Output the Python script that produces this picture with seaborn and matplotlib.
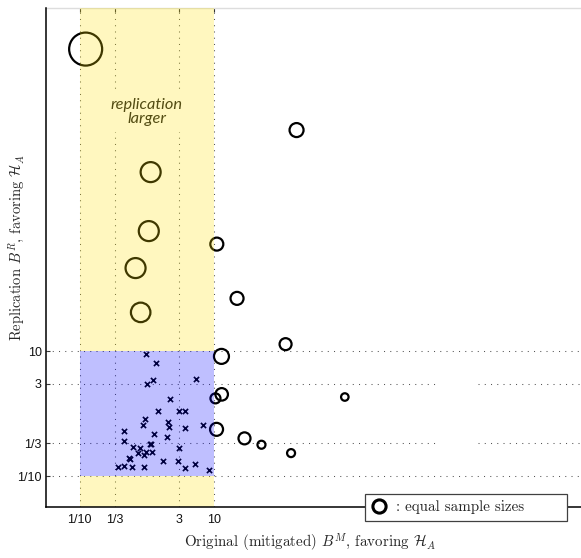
import numpy as np
import pandas as pd
import matplotlib
matplotlib.use("Agg")
import matplotlib.pyplot as plt
import matplotlib.ticker as mticker
from matplotlib.lines import Line2D
import seaborn as sns

# Bayes factors of study pairs with equal sample sizes (open circles)
eq_original = [0.123, 169, 1.14, 1.07, 0.68, 11.0, 22.0, 0.81, 116, 12.9,
               883, 13.0, 10.5, 10.9, 28.4, 50.8, 140]
eq_replication = [6.8e5, 3.44e4, 7310, 832, 213, 515, 69.7, 41.6, 12.9, 8.22,
                  1.84, 2.03, 1.75, 0.559, 0.401, 0.317, 0.233]
eq_relative_n = [3.3, 1.4, 2.0, 2.0, 2.0, 1.3, 1.3, 1.95, 1.2, 1.5,
                 0.75, 1.25, 1.0, 1.3, 1.2, 0.8, 0.8]

# Bayes factors of study pairs with a larger replication sample (crosses)
lg_original = [0.985, 1.39, 1.23, 1.02, 5.34, 2.23, 1.49, 3.00, 3.69, 0.951,
               0.876, 2.10, 2.17, 3.66, 6.86, 0.465, 1.28, 2.03, 0.463, 1.11,
               1.16, 0.630, 0.804, 3.00, 0.731, 0.985, 1.21, 0.923, 0.541, 0.565,
               1.73, 2.88, 0.377, 0.452, 0.609, 0.907, 3.66, 5.25, 8.34]
lg_replication = [8.85, 6.50, 3.48, 2.93, 3.63, 1.71, 1.11, 1.10, 1.10, 0.826,
                  0.655, 0.739, 0.612, 0.593, 0.662, 0.519, 0.465, 0.416, 0.367, 0.329,
                  0.329, 0.296, 0.281, 0.281, 0.236, 0.245, 0.242, 0.217, 0.194, 0.188,
                  0.176, 0.175, 0.141, 0.143, 0.141, 0.142, 0.133, 0.157, 0.123]

tick_values = [0.1, 1 / 3, 3, 10]
tick_labels = ["1/10", "1/3", "3", "10"]
inconclusive_low, inconclusive_high = 0.1, 10

equal_df = pd.DataFrame({"original": eq_original, "replication": eq_replication,
                         "rel_n": eq_relative_n})
larger_df = pd.DataFrame({"original": lg_original, "replication": lg_replication})

sns.set_theme(style="white")
plt.rcParams["font.family"] = ["Liberation Sans", "DejaVu Sans"]
plt.rcParams["mathtext.fontset"] = "cm"
plt.rcParams["axes.formatter.use_mathtext"] = True

fig = plt.figure(figsize=(5.81, 5.58), dpi=100)
ax = fig.add_axes([46 / 581, 1 - 507.3 / 558, 1 - 46 / 581, (507.3 - 8) / 558])
ax.set_xscale("log")
ax.set_yscale("log")
ax.set_xlim(10 ** -1.5, 10 ** 6.46)
ax.set_ylim(10 ** -1.5, 10 ** 6.49)

# dotted reference lines at the evidence thresholds
grid_kw = dict(color="#555555", lw=0.75, ls=(0, (1, 5)), zorder=1)
for v in tick_values:
    ax.axvline(v, **grid_kw)
for v in [0.1, 10]:
    ax.axhline(v, **grid_kw)
for v in [1 / 3, 3]:
    ax.axhline(v, xmin=0, xmax=0.731, **grid_kw)
    ax.axhline(v, xmin=0.807, xmax=1, **grid_kw)

ax.text(1.0, 0.792, "replication\nlarger", transform=ax.get_xaxis_transform(),
        ha="center", va="center", fontsize=11.8, fontstyle="italic",
        family="Lato", color="#1a1a1a", linespacing=1.0, zorder=2,
        bbox=dict(boxstyle="square,pad=0.4", fc="white", ec="none"))

# markers
sns.scatterplot(data=larger_df, x="original", y="replication", marker="x",
                s=14, color="black", linewidth=1.2, ax=ax, zorder=3, legend=False)
sns.scatterplot(data=equal_df, x="original", y="replication", marker="o",
                s=(7.2 * equal_df["rel_n"]) ** 2, facecolor="none",
                edgecolor="black", linewidth=1.6, ax=ax, zorder=3, legend=False)

# translucent shading of the original-study evidence band
ylo, yhi = ax.get_ylim()
ax.fill_betweenx([inconclusive_high, yhi], inconclusive_low, inconclusive_high,
                 color=(1.0, 0.89, 0.0), alpha=0.25, lw=0, zorder=4)
ax.fill_betweenx([ylo, inconclusive_low], inconclusive_low, inconclusive_high,
                 color=(1.0, 0.89, 0.0), alpha=0.25, lw=0, zorder=4)
ax.fill_betweenx([inconclusive_low, inconclusive_high], inconclusive_low,
                 inconclusive_high, color=(0.0, 0.0, 1.0), alpha=0.25, lw=0, zorder=4)

ax.set_xticks(tick_values, tick_labels)
ax.set_yticks(tick_values, tick_labels)
ax.xaxis.set_minor_locator(mticker.NullLocator())
ax.yaxis.set_minor_locator(mticker.NullLocator())
ax.tick_params(axis="both", direction="in", length=3, width=0.8, color="#333333",
               labelsize=9, labelcolor="#111111")
ax.tick_params(axis="x", top=True, pad=5)
ax.tick_params(axis="y", left=True, right=False, pad=3)

for side in ["left", "bottom"]:
    ax.spines[side].set_color("black")
    ax.spines[side].set_linewidth(1.1)
    ax.spines[side].set_zorder(5)
ax.spines["top"].set_color("#dddddd")
ax.spines["top"].set_linewidth(1.0)
ax.spines["right"].set_visible(False)

ax.set_xlabel(r"Original (mitigated) $B^M$, favoring $\mathcal{H}_A$",
              family="cmr10", fontsize=10.8)
ax.set_ylabel(r"Replication $B^R$, favoring $\mathcal{H}_A$",
              family="cmr10", fontsize=10.5)
ax.xaxis.set_label_coords(0.493, -0.050)
ax.yaxis.set_label_coords(-0.037, 0.519)

handle = Line2D([], [], marker="o", ls="none", mfc="none", mec="black",
                mew=2.2, ms=9.5)
leg = fig.legend([handle], [": equal sample sizes"], loc="center",
                 bbox_to_anchor=(365 / 581, 1 - 523 / 558, 202 / 581, 31 / 558),
                 mode="expand", borderaxespad=0, frameon=True, fancybox=False,
                 framealpha=1, edgecolor="#404040", handlelength=1.0,
                 handletextpad=0.6, borderpad=0.45,
                 prop={"family": "cmr10", "size": 10.8})
leg.get_frame().set_linewidth(0.9)
leg.set_zorder(10)

fig.savefig("out.png", dpi=100)
